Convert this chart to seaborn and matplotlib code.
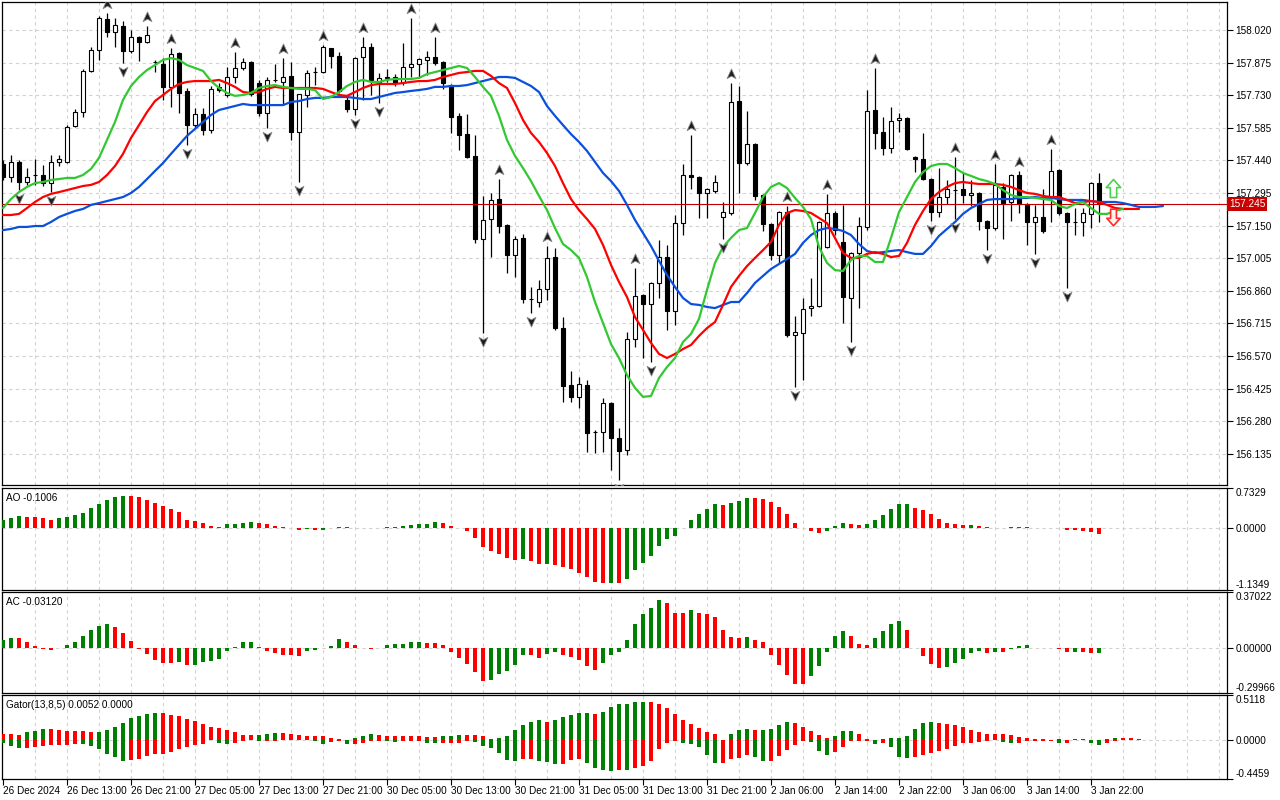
import matplotlib
matplotlib.use("Agg")
import matplotlib.pyplot as plt
import numpy as np
import pandas as pd
import seaborn as sns
from matplotlib.path import Path
from matplotlib.transforms import offset_copy, blended_transform_factory

# ---------------- data (USDJPY-like H1) ----------------
opens = [157.424,157.366,157.433,157.344,157.375,157.375,157.339,157.433,157.433,157.593,
157.655,157.838,157.931,158.069,158.011,158.038,157.927,157.989,157.967,157.879,
157.869,157.767,157.918,157.749,157.597,157.646,157.575,157.767,157.731,157.811,
157.851,157.878,157.785,157.651,157.798,157.789,157.816,157.566,157.731,157.833,
157.833,157.940,157.904,157.709,157.669,157.900,157.944,157.789,157.807,157.811,
157.789,157.855,157.869,157.887,157.900,157.878,157.776,157.638,157.557,157.460,
157.090,157.179,157.268,157.152,157.019,157.095,156.823,156.810,156.868,157.010,
156.694,156.441,156.388,156.441,156.232,156.232,156.361,156.205,156.152,156.645,
156.841,156.801,156.895,157.010,156.770,157.161,157.375,157.366,157.295,157.304,
157.188,157.206,157.704,157.428,157.513,157.286,157.157,157.019,157.210,156.663,
156.672,156.783,156.792,157.055,157.206,157.077,156.828,157.028,157.144,157.664,
157.566,157.495,157.620,157.629,157.455,157.446,157.357,157.210,157.277,157.308,
157.313,157.286,157.295,157.170,157.139,157.322,157.255,157.375,157.246,157.166,
157.188,157.277,157.397,157.206,157.168,157.166,157.202,157.339]
highs = [157.442,157.464,157.442,157.406,157.446,157.420,157.464,157.464,157.597,157.669,
157.847,157.944,158.082,158.096,158.073,158.060,158.020,157.994,158.038,157.887,
157.895,157.940,157.922,157.762,157.673,157.673,157.771,157.784,157.855,157.922,
157.895,157.882,157.798,157.811,157.869,157.895,157.878,157.735,157.842,157.855,
157.953,157.935,157.922,157.722,157.900,157.989,157.962,157.829,157.847,157.824,
157.962,158.073,157.895,157.927,157.989,157.882,157.780,157.651,157.646,157.553,
157.282,157.295,157.357,157.157,157.104,157.113,156.877,156.908,157.059,157.050,
156.743,156.503,156.476,156.463,156.241,156.383,156.365,156.250,156.677,156.961,
156.846,156.899,157.086,157.064,157.197,157.424,157.553,157.371,157.317,157.375,
157.255,157.784,157.771,157.660,157.518,157.290,157.161,157.215,157.237,156.748,
156.828,156.917,157.170,157.290,157.215,157.242,157.032,157.188,157.753,157.851,
157.633,157.678,157.651,157.633,157.460,157.562,157.362,157.406,157.353,157.455,
157.384,157.353,157.299,157.175,157.424,157.339,157.379,157.393,157.250,157.242,
157.313,157.491,157.402,157.210,157.228,157.228,157.344,157.384]
lows = [157.353,157.344,157.308,157.331,157.331,157.326,157.299,157.415,157.428,157.589,
157.633,157.833,157.887,157.989,157.944,157.873,157.918,157.882,157.962,157.833,
157.709,157.678,157.651,157.509,157.584,157.553,157.562,157.744,157.722,157.785,
157.842,157.727,157.638,157.584,157.789,157.686,157.531,157.344,157.678,157.775,
157.829,157.851,157.740,157.655,157.642,157.709,157.731,157.695,157.789,157.771,
157.775,157.811,157.807,157.820,157.864,157.758,157.562,157.486,157.451,157.073,
156.672,157.010,157.117,156.939,156.921,156.806,156.761,156.788,156.819,156.686,
156.365,156.365,156.339,156.143,156.138,156.143,156.063,156.018,156.130,156.610,
156.561,156.543,156.828,156.686,156.708,157.108,157.313,157.184,157.184,157.295,
157.090,157.197,157.295,157.420,157.264,157.126,156.997,156.984,156.654,156.432,
156.463,156.748,156.788,157.050,157.108,156.717,156.632,156.783,157.130,157.491,
157.464,157.473,157.566,157.486,157.388,157.353,157.170,157.188,157.246,157.179,
157.251,157.237,157.130,157.041,157.130,157.090,157.170,157.206,157.064,157.023,
157.117,157.166,157.197,156.872,157.108,157.104,157.139,157.166]
closes = [157.366,157.433,157.344,157.366,157.374,157.339,157.433,157.446,157.589,157.655,
157.838,157.931,158.073,158.011,158.042,157.927,157.989,157.967,157.998,157.878,
157.767,157.913,157.740,157.597,157.646,157.575,157.758,157.753,157.811,157.851,
157.878,157.735,157.651,157.798,157.797,157.811,157.566,157.735,157.829,157.832,
157.944,157.904,157.749,157.669,157.895,157.944,157.798,157.807,157.811,157.785,
157.855,157.869,157.891,157.900,157.873,157.785,157.633,157.553,157.455,157.090,
157.175,157.264,157.148,157.019,157.090,156.823,156.822,156.868,157.006,156.694,
156.437,156.388,156.445,156.227,156.231,156.361,156.205,156.147,156.645,156.837,
156.801,156.895,157.010,156.770,157.161,157.375,157.366,157.295,157.312,157.344,
157.210,157.700,157.428,157.513,157.282,157.157,157.019,157.210,156.663,156.677,
156.779,156.792,157.166,157.206,157.130,156.832,157.028,157.148,157.660,157.562,
157.495,157.615,157.629,157.490,157.446,157.357,157.210,157.277,157.313,157.307,
157.286,157.295,157.170,157.139,157.331,157.250,157.375,157.246,157.166,157.188,
157.126,157.393,157.206,157.166,157.166,157.206,157.339,157.245]

# Alligator (already shifted: jaw +8, teeth +5, lips +3 bars)
jaw = [157.130,157.135,157.144,157.144,157.148,157.148,157.166,157.188,157.202,157.215,
157.224,157.242,157.250,157.259,157.268,157.277,157.295,157.322,157.357,157.393,
157.428,157.469,157.509,157.549,157.580,157.611,157.642,157.664,157.673,157.682,
157.691,157.686,157.686,157.686,157.686,157.686,157.700,157.704,157.713,157.718,
157.718,157.722,157.722,157.722,157.718,157.713,157.713,157.722,157.731,157.740,
157.744,157.749,157.753,157.758,157.767,157.767,157.771,157.771,157.775,157.784,
157.793,157.802,157.811,157.811,157.807,157.789,157.771,157.744,157.682,157.638,
157.597,157.557,157.522,157.482,157.433,157.384,157.348,157.304,157.242,157.175,
157.117,157.059,156.993,156.930,156.877,156.828,156.801,156.797,156.788,156.783,
156.797,156.810,156.810,156.850,156.895,156.926,156.957,156.979,157.001,157.024,
157.073,157.108,157.130,157.139,157.135,157.126,157.108,157.068,157.037,157.028,
157.032,157.037,157.041,157.032,157.024,157.024,157.059,157.104,157.135,157.166,
157.202,157.228,157.246,157.264,157.268,157.268,157.268,157.273,157.273,157.277,
157.273,157.273,157.268,157.264,157.264,157.264,157.259,157.255,157.255,157.255,
157.250,157.242,157.233,157.233,157.233,157.237]
teeth = [157.197,157.197,157.202,157.228,157.255,157.277,157.291,157.299,157.308,157.317,
157.326,157.331,157.344,157.375,157.415,157.469,157.540,157.597,157.655,157.704,
157.731,157.758,157.780,157.789,157.793,157.793,157.793,157.798,157.784,157.767,
157.744,157.740,157.744,157.758,157.767,157.762,157.762,157.762,157.762,157.762,
157.758,157.744,157.731,157.727,157.744,157.762,157.775,157.780,157.780,157.780,
157.784,157.789,157.793,157.793,157.798,157.811,157.820,157.829,157.833,157.838,
157.838,157.816,157.784,157.762,157.695,157.620,157.562,157.522,157.473,157.415,
157.339,157.268,157.219,157.179,157.135,157.064,156.975,156.899,156.832,156.743,
156.686,156.628,156.579,156.561,156.579,156.601,156.619,156.659,156.694,156.721,
156.797,156.877,156.926,156.970,157.006,157.041,157.077,157.153,157.206,157.219,
157.215,157.206,157.184,157.161,157.095,157.028,157.006,157.006,157.024,157.032,
157.024,157.010,157.015,157.073,157.153,157.215,157.268,157.299,157.322,157.339,
157.344,157.339,157.335,157.335,157.335,157.331,157.322,157.308,157.295,157.291,
157.282,157.277,157.277,157.264,157.250,157.255,157.259,157.255,157.242,157.228,
157.224,157.224,157.224]
lips = [157.228,157.268,157.299,157.322,157.339,157.344,157.353,157.357,157.362,157.362,
157.375,157.402,157.451,157.531,157.611,157.709,157.771,157.811,157.842,157.864,
157.887,157.895,157.887,157.864,157.851,157.838,157.793,157.762,157.740,157.727,
157.731,157.740,157.762,157.771,157.775,157.767,157.762,157.758,157.758,157.753,
157.713,157.722,157.744,157.771,157.789,157.798,157.789,157.789,157.798,157.802,
157.802,157.802,157.807,157.824,157.833,157.842,157.851,157.860,157.851,157.811,
157.767,157.727,157.638,157.531,157.460,157.406,157.348,157.282,157.219,157.139,
157.068,157.041,157.006,156.921,156.810,156.717,156.623,156.561,156.485,156.428,
156.388,156.392,156.472,156.521,156.561,156.632,156.668,156.735,156.864,156.984,
157.055,157.095,157.130,157.139,157.206,157.277,157.322,157.339,157.317,157.273,
157.233,157.179,157.055,156.984,156.952,156.948,156.997,157.015,157.015,156.988,
156.988,157.095,157.210,157.277,157.344,157.388,157.415,157.424,157.424,157.406,
157.384,157.371,157.357,157.348,157.335,157.308,157.286,157.277,157.277,157.273,
157.268,157.264,157.237,157.228,157.246,157.255,157.228,157.202,157.202,157.215,
157.224]

ao = [0.149,0.180,0.212,0.200,0.198,0.180,0.156,0.180,0.199,0.230,
0.268,0.367,0.436,0.511,0.573,0.592,0.590,0.560,0.511,0.455,
0.405,0.342,0.293,0.156,0.125,0.087,0.044,0.025,0.068,0.070,
0.087,0.106,0.100,0.068,0.044,0.025,0.005,-0.037,-0.019,-0.043,
-0.030,0.003,0.012,0.010,0.006,0.005,0.004,0.003,0.012,0.025,
0.044,0.062,0.081,0.082,0.118,0.100,0.044,0.006,-0.062,-0.174,
-0.349,-0.423,-0.479,-0.548,-0.585,-0.567,-0.610,-0.660,-0.655,-0.668,
-0.722,-0.753,-0.816,-0.890,-0.984,-1.003,-1.000,-1.005,-0.940,-0.772,
-0.648,-0.517,-0.330,-0.193,-0.143,0.003,0.156,0.249,0.342,0.436,
0.430,0.455,0.492,0.548,0.545,0.540,0.473,0.380,0.249,0.100,
0.005,-0.062,-0.087,-0.050,0.044,0.100,0.081,0.062,0.081,0.156,
0.230,0.342,0.436,0.438,0.361,0.324,0.249,0.174,0.100,0.081,
0.062,0.064,0.044,0.025,0.008,0.002,0.010,0.024,0.025,0.002,
0.001,0.003,-0.005,-0.040,-0.044,-0.056,-0.080,-0.1006]

ac = [0.050,0.063,0.062,0.036,0.010,-0.007,-0.016,0.000,0.016,0.041,
0.079,0.117,0.144,0.158,0.140,0.097,0.043,-0.007,-0.043,-0.079,
-0.101,-0.102,-0.097,-0.115,-0.113,-0.097,-0.090,-0.072,-0.023,0.007,
0.036,0.037,0.007,-0.023,-0.036,-0.045,-0.046,-0.056,-0.023,-0.016,
0.000,0.011,0.056,0.036,0.018,0.000,-0.007,0.000,0.018,0.023,
0.024,0.036,0.037,0.035,0.034,0.016,-0.029,-0.070,-0.106,-0.160,
-0.219,-0.214,-0.174,-0.153,-0.113,-0.045,-0.046,-0.065,-0.038,-0.025,
-0.045,-0.059,-0.079,-0.119,-0.147,-0.099,-0.050,-0.025,0.050,0.158,
0.226,0.266,0.320,0.300,0.232,0.230,0.253,0.232,0.226,0.205,
0.117,0.070,0.063,0.070,0.050,0.036,-0.045,-0.113,-0.180,-0.241,
-0.242,-0.187,-0.120,-0.025,0.077,0.110,0.077,0.023,0.016,0.063,
0.110,0.158,0.178,0.117,0.002,-0.052,-0.106,-0.133,-0.126,-0.099,
-0.072,-0.032,-0.018,-0.032,-0.025,-0.027,-0.011,0.011,0.018,0.000,
-0.001,0.001,-0.011,-0.027,-0.025,-0.027,-0.036,-0.0312]

gator_up = [0.0667,0.0623,0.0578,0.0845,0.1068,0.1290,0.1246,0.1112,0.1068,0.1023,
0.1020,0.0890,0.0934,0.1157,0.1468,0.1913,0.2447,0.2758,0.2980,0.3114,
0.3025,0.2891,0.2714,0.2402,0.2135,0.1824,0.1512,0.1335,0.1112,0.0845,
0.0534,0.0530,0.0578,0.0712,0.0801,0.0756,0.0623,0.0578,0.0489,0.0445,
0.0400,0.0222,0.0089,0.0044,0.0267,0.0489,0.0623,0.0578,0.0489,0.0400,
0.0398,0.0396,0.0394,0.0356,0.0311,0.0445,0.0489,0.0578,0.0575,0.0534,
0.0445,0.0133,0.0267,0.0489,0.1112,0.1690,0.2091,0.2224,0.2091,0.2224,
0.2580,0.2891,0.3025,0.3030,0.2980,0.3203,0.3737,0.4048,0.4093,0.4315,
0.4320,0.4310,0.4137,0.3692,0.2980,0.2269,0.1824,0.1379,0.0934,0.0623,
0.0040,0.0667,0.1157,0.1201,0.1112,0.1157,0.1201,0.1735,0.2046,0.1957,
0.1423,0.0979,0.0534,0.0222,0.0400,0.0979,0.1023,0.0623,0.0133,0.0044,
0.0089,0.0267,0.0270,0.0400,0.1290,0.1913,0.2091,0.1957,0.1868,0.1735,
0.1423,0.1112,0.0890,0.0712,0.0667,0.0623,0.0534,0.0356,0.0222,0.0133,
0.0089,0.0044,0.0089,0.0010,0.0133,0.0089,0.0020,0.0015,0.0133,0.0267,
0.0265,0.0178,0.0052]
gator_down = [-0.0311,-0.0712,-0.0979,-0.0934,-0.0845,-0.0667,-0.0623,-0.0578,-0.0534,-0.0445,
-0.0489,-0.0712,-0.1068,-0.1557,-0.1957,-0.2402,-0.2313,-0.2135,-0.1868,-0.1601,
-0.1557,-0.1379,-0.1068,-0.0756,-0.0578,-0.0445,-0.0020,-0.0356,-0.0445,-0.0400,
-0.0133,-0.0010,-0.0178,-0.0133,-0.0089,-0.0044,-0.0010,-0.0044,-0.0040,-0.0089,
-0.0445,-0.0222,-0.0133,-0.0445,-0.0440,-0.0356,-0.0133,-0.0089,-0.0178,-0.0222,
-0.0178,-0.0133,-0.0130,-0.0311,-0.0356,-0.0311,-0.0308,-0.0305,-0.0178,-0.0267,
-0.0712,-0.0890,-0.1468,-0.2313,-0.2358,-0.2135,-0.2130,-0.2402,-0.2536,-0.2758,
-0.2714,-0.2269,-0.2135,-0.2580,-0.3247,-0.3470,-0.3514,-0.3381,-0.3470,-0.3158,
-0.2980,-0.2358,-0.1068,-0.0400,-0.0178,-0.0311,-0.0489,-0.0756,-0.1690,-0.2624,
-0.2580,-0.2180,-0.2046,-0.1690,-0.2002,-0.2447,-0.2420,-0.1868,-0.1112,-0.0534,
-0.0178,-0.0267,-0.1290,-0.1779,-0.1423,-0.0801,-0.0089,-0.0085,-0.0080,-0.0445,
-0.0356,-0.0845,-0.1957,-0.2046,-0.1913,-0.1735,-0.1468,-0.1246,-0.1023,-0.0667,
-0.0400,-0.0311,-0.0222,-0.0133,-0.0010,-0.0222,-0.0356,-0.0311,-0.0178,-0.0175,
-0.0133,-0.0130,-0.0400,-0.0356,-0.0044,-0.0010,-0.0311,-0.0534,-0.0400,-0.0133,
0.0000]

up_fractals = [13, 18, 21, 29, 35, 40, 45, 51, 54, 62, 68, 79, 86, 91, 98, 103, 109, 119, 124, 127, 131]
down_fractals = [2, 6, 15, 23, 33, 37, 44, 47, 60, 66, 77, 81, 90, 99, 106, 116, 119, 123, 129, 133]

price_ticks = [156.135, 156.280, 156.425, 156.570, 156.715, 156.860, 157.005,
               157.150, 157.295, 157.440, 157.585, 157.730, 157.875, 158.020]
time_labels = ['26 Dec 2024', '26 Dec 13:00', '26 Dec 21:00', '27 Dec 05:00', '27 Dec 13:00',
               '27 Dec 21:00', '30 Dec 05:00', '30 Dec 13:00', '30 Dec 21:00', '31 Dec 05:00',
               '31 Dec 13:00', '31 Dec 21:00', '2 Jan 06:00', '2 Jan 14:00', '2 Jan 22:00',
               '3 Jan 06:00', '3 Jan 14:00', '3 Jan 22:00']
bid = 157.245
ao_title = 'AO -0.1006'
ac_title = 'AC -0.03120'
gator_title = 'Gator(13,8,5) 0.0052 0.0000'

# ---------------- style ----------------
sns.set_theme(style="white")
plt.rcParams['font.family'] = ['Liberation Sans', 'DejaVu Sans']
FS = 7.2
GREEN = '#008000'
RED = '#ff0000'
GRID = '#d2d2d2'
DASH = (0, (3, 3))

fig = plt.figure(figsize=(12.8, 8), dpi=100)
fig.patch.set_facecolor('white')


def rect(l, t, r, b):
    return [l / 1280, 1 - b / 800, (r - l) / 1280, (b - t) / 800]


ax = fig.add_axes(rect(2, 2, 1227, 485))
ax_ao = fig.add_axes(rect(2, 488, 1227, 590))
ax_ac = fig.add_axes(rect(2, 592, 1227, 693))
ax_g = fig.add_axes(rect(2, 695, 1227, 779))
all_axes = [ax, ax_ao, ax_ac, ax_g]

XMIN, XMAX = -0.125, 153.0
n = len(opens)
xs = np.arange(n)

for a in all_axes:
    a.set_facecolor('white')
    for s in a.spines.values():
        s.set_color('black')
        s.set_linewidth(0.9)
    for gx in range(4, 153, 4):
        a.axvline(gx, color=GRID, lw=0.8, ls=DASH, zorder=0)
    a.yaxis.tick_right()
    a.tick_params(axis='y', left=False, right=True, direction='out', length=4, width=0.8,
                  labelsize=FS, pad=2, colors='black')
    a.tick_params(axis='x', bottom=False, labelbottom=False)
    a.grid(False)

# ---------------- main price panel ----------------
o = np.array(opens); h = np.array(highs); l = np.array(lows); c = np.array(closes)
bull = c >= o
body_bottom = np.minimum(o, c)
body_h = np.maximum(np.abs(c - o), 0.0008)
ax.vlines(xs, l, h, color='black', lw=0.9, zorder=2)
ax.bar(xs, body_h, bottom=body_bottom, width=0.62,
       color=['white' if b else 'black' for b in bull], edgecolor='black', linewidth=0.8, zorder=3)

for vals, col in [(jaw, '#0a50dc'), (teeth, '#ff0000'), (lips, '#32c832')]:
    df = pd.DataFrame({'x': np.arange(len(vals)), 'y': vals})
    sns.lineplot(data=df, x='x', y='y', ax=ax, color=col, linewidth=1.6, zorder=4,
                 estimator=None, legend=False)
ax.set_xlabel('')
ax.set_ylabel('')

for p in price_ticks:
    ax.axhline(p, color=GRID, lw=0.8, ls=DASH, zorder=0)

# fractal arrows
codes = [Path.MOVETO, Path.LINETO, Path.LINETO, Path.LINETO, Path.CLOSEPOLY]
up_m = Path([(0, 1), (0.8, -0.75), (0, -0.3), (-0.8, -0.75), (0, 1)], codes)
dn_m = Path([(0, -1), (0.8, 0.75), (0, 0.3), (-0.8, 0.75), (0, -1)], codes)
tr_up = offset_copy(ax.transData, fig=fig, y=9, units='dots')
tr_dn = offset_copy(ax.transData, fig=fig, y=-8, units='dots')
ax.plot(up_fractals, h[up_fractals], ls='none', marker=up_m, ms=8, mfc='#1e1e1e',
        mec='#8c8c8c', mew=0.6, transform=tr_up, zorder=5)
ax.plot(down_fractals, l[down_fractals], ls='none', marker=dn_m, ms=8, mfc='#1e1e1e',
        mec='#8c8c8c', mew=0.6, transform=tr_dn, zorder=5)

# bid line + label
ax.axhline(bid, color='#c00000', lw=0.8, zorder=3.5)
trb = blended_transform_factory(ax.transAxes, ax.transData)
ax.text(1.0016, bid, f'{bid:.3f}', transform=trb, ha='left', va='center', color='white',
        fontsize=FS, bbox=dict(boxstyle='square,pad=0.18', fc='#cc0000', ec='none'),
        zorder=6, clip_on=False)

# hollow signal arrows near the last bar
bcodes = [Path.MOVETO] + [Path.LINETO] * 6 + [Path.CLOSEPOLY]
up_block = Path([(0, 1), (0.8, 0.1), (0.35, 0.1), (0.35, -1), (-0.35, -1), (-0.35, 0.1), (-0.8, 0.1), (0, 1)], bcodes)
dn_block = Path([(0, -1), (0.8, -0.1), (0.35, -0.1), (0.35, 1), (-0.35, 1), (-0.35, -0.1), (-0.8, -0.1), (0, -1)], bcodes)
sig_x = n + 0.75
ax.plot([sig_x], [bid], ls='none', marker=up_block, ms=13, mfc='white', mec='#4fd04f', mew=1.2,
        transform=offset_copy(ax.transData, fig=fig, y=16, units='dots'), zorder=6)
ax.plot([sig_x], [bid], ls='none', marker=dn_block, ms=12, mfc='#fff2ea', mec='#ff2a2a', mew=1.2,
        transform=offset_copy(ax.transData, fig=fig, y=-13, units='dots'), zorder=6)

ax.set_ylim(155.996, 158.1446)
ax.set_yticks(price_ticks)
ax.set_yticklabels([f'{p:.3f}' for p in price_ticks])


# ---------------- oscillators ----------------
def rise_colors(vals, first=GREEN):
    """Green when the bar is higher than the previous one, red otherwise."""
    cols = [first]
    for prev, cur in zip(vals[:-1], vals[1:]):
        cols.append(GREEN if cur > prev else RED)
    return cols


def abs_colors(vals, first=GREEN):
    """Green when the bar's size grows, red when it shrinks (Gator)."""
    cols = [first]
    for prev, cur in zip(vals[:-1], vals[1:]):
        cols.append(GREEN if abs(cur) > abs(prev) else RED)
    return cols


def setup_osc(a, lo, hi, labels, title, title_y):
    a.set_ylim(lo, hi)
    a.axhline(0, color=GRID, lw=0.8, ls=DASH, zorder=1)
    a.set_yticks([hi, 0.0, lo])
    a.set_yticklabels(labels)
    ticks = a.yaxis.get_major_ticks()
    ticks[0].label2.set_verticalalignment('top')
    ticks[2].label2.set_verticalalignment('bottom')
    a.text(0.0035, title_y, title, transform=a.transAxes, ha='left', va='top', fontsize=FS,
           color='black')


ax_ao.bar(np.arange(len(ao)), ao, width=0.5, color=rise_colors(ao), linewidth=0, zorder=3)
setup_osc(ax_ao, -1.1349, 0.7329, ['0.7329', '0.0000', '-1.1349'], ao_title, 0.955)

ax_ac.bar(np.arange(len(ac)), ac, width=0.5, color=rise_colors(ac), linewidth=0, zorder=3)
setup_osc(ax_ac, -0.29966, 0.37022, ['0.37022', '0.00000', '-0.29966'], ac_title, 0.95)

ax_g.bar(np.arange(len(gator_up)), gator_up, width=0.5, color=abs_colors(gator_up, RED),
         linewidth=0, zorder=3)
ax_g.bar(np.arange(len(gator_down)), gator_down, width=0.5, color=abs_colors(gator_down, GREEN),
         linewidth=0, zorder=3)
setup_osc(ax_g, -0.4459, 0.5118, ['0.5118', '0.0000', '-0.4459'], gator_title, 0.94)

# time axis
tick_pos = list(range(0, n, 8))
ax_g.tick_params(axis='x', bottom=True, labelbottom=True, direction='out', length=4, width=0.8,
                 labelsize=FS, pad=1, colors='black')
ax_g.set_xticks(tick_pos)
ax_g.set_xticklabels(time_labels, ha='left')

for a in all_axes:
    a.set_xlim(XMIN, XMAX)

fig.savefig('out.png', dpi=100, facecolor='white')
